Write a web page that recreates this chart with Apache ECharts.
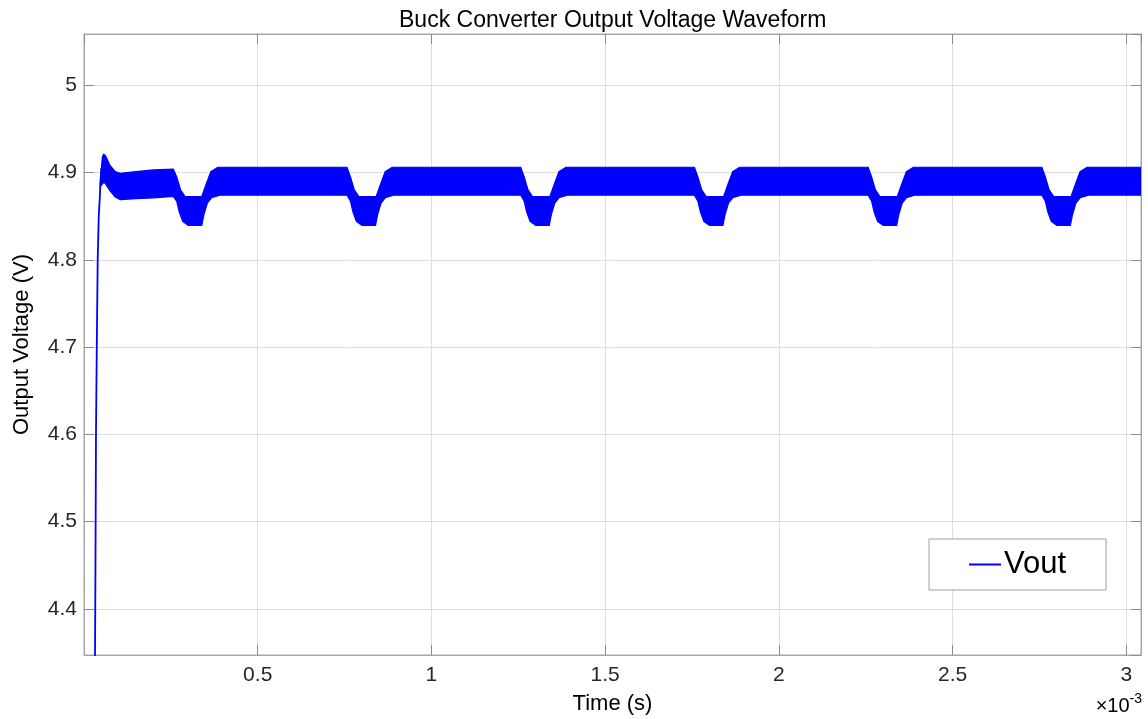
<!DOCTYPE html>
<html>
<head>
<meta charset="utf-8">
<script src="https://cdn.jsdelivr.net/npm/echarts@6/dist/echarts.min.js"></script>
<style>
html,body{margin:0;padding:0;background:#fff;}
#chart{width:1148px;height:719px;}
</style>
</head>
<body>
<div id="chart"></div>
<script>
// ---- Data (time in ms, i.e. ×10^-3 s; voltage in V) ----
var riseTime = [0.0312, 0.0317, 0.0330, 0.0345, 0.0368, 0.0394, 0.0425, 0.0452, 0.0475, 0.0500];
var riseVolt = [4.300, 4.347, 4.450, 4.600, 4.700, 4.800, 4.850, 4.869, 4.890, 4.905];

var upperTime = [
  0.047, 0.050, 0.053, 0.057, 0.062, 0.075, 0.090, 0.104, 0.150, 0.200, 0.257,
  0.267, 0.278, 0.291, 0.339, 0.351, 0.365, 0.385,
  0.757, 0.767, 0.778, 0.791, 0.841, 0.853, 0.867, 0.887,
  1.257, 1.267, 1.278, 1.291, 1.341, 1.353, 1.367, 1.387,
  1.757, 1.767, 1.778, 1.791, 1.841, 1.853, 1.867, 1.887,
  2.257, 2.267, 2.278, 2.291, 2.341, 2.353, 2.367, 2.387,
  2.757, 2.767, 2.778, 2.791, 2.841, 2.853, 2.867, 2.887,
  3.043
];
var upperVolt = [
  4.888, 4.905, 4.918, 4.921, 4.919, 4.908, 4.901, 4.899, 4.901, 4.903, 4.904,
  4.895, 4.880, 4.8725, 4.8725, 4.886, 4.901, 4.906,
  4.906, 4.895, 4.880, 4.8725, 4.8725, 4.886, 4.901, 4.906,
  4.906, 4.895, 4.880, 4.8725, 4.8725, 4.886, 4.901, 4.906,
  4.906, 4.895, 4.880, 4.8725, 4.8725, 4.886, 4.901, 4.906,
  4.906, 4.895, 4.880, 4.8725, 4.8725, 4.886, 4.901, 4.906,
  4.906, 4.895, 4.880, 4.8725, 4.8725, 4.886, 4.901, 4.906,
  4.906
];
var lowerTime = [
  0.047, 0.053, 0.057, 0.062, 0.075, 0.090, 0.104, 0.150, 0.200, 0.257,
  0.267, 0.274, 0.284, 0.300, 0.339, 0.345, 0.355, 0.367, 0.391,
  0.757, 0.767, 0.774, 0.784, 0.800, 0.839, 0.845, 0.855, 0.867, 0.891,
  1.257, 1.267, 1.274, 1.284, 1.300, 1.339, 1.345, 1.355, 1.367, 1.391,
  1.757, 1.767, 1.774, 1.784, 1.800, 1.839, 1.845, 1.855, 1.867, 1.891,
  2.257, 2.267, 2.274, 2.284, 2.300, 2.339, 2.345, 2.355, 2.367, 2.391,
  2.757, 2.767, 2.774, 2.784, 2.800, 2.839, 2.845, 2.855, 2.867, 2.891,
  3.043
];
var lowerVolt = [
  4.884, 4.887, 4.889, 4.887, 4.879, 4.872, 4.869, 4.870, 4.871, 4.8725,
  4.867, 4.855, 4.844, 4.8395, 4.8395, 4.8515, 4.865, 4.871, 4.874,
  4.874, 4.867, 4.855, 4.844, 4.8395, 4.8395, 4.8515, 4.865, 4.871, 4.874,
  4.874, 4.867, 4.855, 4.844, 4.8395, 4.8395, 4.8515, 4.865, 4.871, 4.874,
  4.874, 4.867, 4.855, 4.844, 4.8395, 4.8395, 4.8515, 4.865, 4.871, 4.874,
  4.874, 4.867, 4.855, 4.844, 4.8395, 4.8395, 4.8515, 4.865, 4.871, 4.874,
  4.874, 4.867, 4.855, 4.844, 4.8395, 4.8395, 4.8515, 4.865, 4.871, 4.874,
  4.874
];

var xMin = 0, xMax = 3.0423, xStep = 0.5;
var yMin = 4.3471, yMax = 5.0587, yStep = 0.1;

var titleText = 'Buck Converter Output Voltage Waveform';
var xName = 'Time (s)';
var yName = 'Output Voltage (V)';
var seriesName = 'Vout';

// ---- Build ----
var FONT = "'Liberation Sans', Arial, Helvetica, sans-serif";
var BLUE = '#0000ff';
var riseData = riseTime.map(function (t, i) { return [t, riseVolt[i]]; });
var upperPts = upperTime.map(function (t, i) { return [t, upperVolt[i]]; });
var lowerPts = lowerTime.map(function (t, i) { return [t, lowerVolt[i]]; });

function aLine() { return {show: true, onZero: false, lineStyle: {color: '#a6a6a6', width: 1}}; }
function aTick() { return {show: true, inside: true, length: 10, lineStyle: {color: '#8c8c8c', width: 1}}; }
function aSplit() { return {show: true, lineStyle: {color: '#dedede', width: 1}}; }

var chart = echarts.init(document.getElementById('chart'), null, {renderer: 'canvas'});

var option = {
  animation: false,
  backgroundColor: '#ffffff',
  title: {
    text: titleText,
    left: 399,
    top: 9,
    padding: 0,
    textStyle: {fontFamily: FONT, fontSize: 23, fontWeight: 'normal', color: '#000000'}
  },
  grid: {left: 84, right: 7, top: 34, bottom: 64, containLabel: false, outerBoundsMode: 'none',
         show: true, borderColor: '#a6a6a6', borderWidth: 1, backgroundColor: '#ffffff'},
  legend: {
    data: [{name: seriesName, icon: 'rect', itemStyle: {color: BLUE}}],
    left: 929, top: 539,
    orient: 'vertical',
    padding: [10, 40, 10, 40],
    backgroundColor: '#ffffff',
    borderColor: '#a0a0a0', borderWidth: 1, borderRadius: 0,
    itemWidth: 32, itemHeight: 2, itemGap: 0,
    selectedMode: false,
    textStyle: {fontFamily: FONT, fontSize: 31, color: '#000000', padding: [0, 0, 0, -2]}
  },
  xAxis: [{
    type: 'value', min: xMin, max: xMax, minInterval: xStep, maxInterval: xStep, splitNumber: 6,
    name: xName, nameLocation: 'middle', nameGap: 38,
    nameTextStyle: {fontFamily: FONT, fontSize: 22, color: '#000000'},
    axisLine: aLine(), axisTick: aTick(), splitLine: aSplit(),
    axisLabel: {fontFamily: FONT, fontSize: 21, color: '#262626', margin: 10,
                showMinLabel: false, showMaxLabel: false}
  }, {
    type: 'value', position: 'top', min: xMin, max: xMax, minInterval: xStep, maxInterval: xStep, splitNumber: 6,
    axisLine: aLine(), axisTick: aTick(),
    splitLine: {show: false}, axisLabel: {show: false}
  }],
  yAxis: [{
    type: 'value', min: yMin, max: yMax, minInterval: yStep, maxInterval: yStep, splitNumber: 7,
    name: yName, nameLocation: 'middle', nameGap: 51, nameRotate: 90,
    nameTextStyle: {fontFamily: FONT, fontSize: 22, color: '#000000'},
    axisLine: aLine(), axisTick: aTick(), splitLine: aSplit(),
    axisLabel: {fontFamily: FONT, fontSize: 21, color: '#262626', margin: 7,
                showMinLabel: false, showMaxLabel: false}
  }, {
    type: 'value', position: 'right', min: yMin, max: yMax, minInterval: yStep, maxInterval: yStep, splitNumber: 7,
    axisLine: aLine(), axisTick: aTick(),
    splitLine: {show: false}, axisLabel: {show: false}
  }],
  graphic: [{
    type: 'text',
    right: 6, top: 692,
    style: {
      text: '{a|×10}{b|-3}',
      rich: {
        a: {fontFamily: FONT, fontSize: 20, color: '#262626', verticalAlign: 'bottom', lineHeight: 24},
        b: {fontFamily: FONT, fontSize: 14, color: '#262626', verticalAlign: 'top', lineHeight: 24, padding: [0, 0, 9, 0]}
      }
    }
  }],
  series: [{
    name: seriesName,
    type: 'line',
    data: riseData,
    symbol: 'none',
    clip: true,
    lineStyle: {color: BLUE, width: 1.8},
    itemStyle: {color: BLUE},
    z: 3
  }, {
    name: 'band',
    type: 'custom',
    clip: true,
    data: [[upperTime[0], upperVolt[0]]],
    encode: {x: 0, y: 1},
    renderItem: function (params, api) {
      var pts = [];
      upperPts.forEach(function (p) { pts.push(api.coord(p)); });
      for (var i = lowerPts.length - 1; i >= 0; i--) pts.push(api.coord(lowerPts[i]));
      return {
        type: 'polygon',
        shape: {points: pts},
        style: {fill: BLUE, stroke: BLUE, lineWidth: 1.2}
      };
    },
    z: 3
  }]
};
chart.setOption(option);
</script>
</body>
</html>
